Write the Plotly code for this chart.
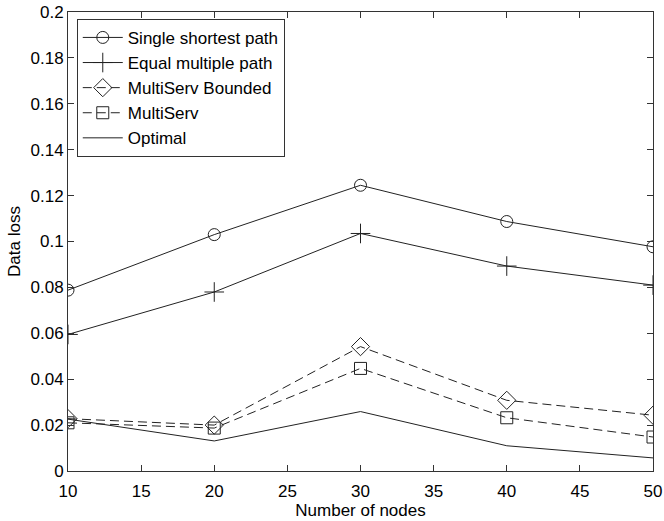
import plotly.graph_objects as go

nodes = [10, 20, 30, 40, 50]
single_shortest = [0.0788, 0.1030, 0.1245, 0.1087, 0.0977]
equal_multiple = [0.0595, 0.0780, 0.1035, 0.0893, 0.0810]
multiserv_bounded = [0.0228, 0.0200, 0.0542, 0.0308, 0.0243]
multiserv = [0.0210, 0.0187, 0.0447, 0.0232, 0.0148]
optimal = [0.0226, 0.0131, 0.0259, 0.0110, 0.0057]

y_ticks = [0, 0.02, 0.04, 0.06, 0.08, 0.1, 0.12, 0.14, 0.16, 0.18, 0.2]
y_labels = ["0", "0.02", "0.04", "0.06", "0.08", "0.1", "0.12", "0.14", "0.16", "0.18", "0.2"]
x_ticks = [10, 15, 20, 25, 30, 35, 40, 45, 50]

LC = "#222222"
FONT = "Liberation Sans, Arial, sans-serif"

fig = go.Figure()
fig.add_trace(go.Scatter(x=nodes, y=single_shortest, name="Single shortest path",
                         mode="lines+markers", line=dict(color=LC, width=1),
                         marker=dict(symbol="circle-open", size=12, color=LC, line=dict(width=1))))
fig.add_trace(go.Scatter(x=nodes, y=equal_multiple, name="Equal multiple path",
                         mode="lines+markers", line=dict(color=LC, width=1),
                         marker=dict(symbol="cross-thin-open", size=14, color=LC, line=dict(width=1, color=LC))))
fig.add_trace(go.Scatter(x=nodes, y=multiserv_bounded, name="MultiServ Bounded",
                         mode="lines+markers", line=dict(color=LC, width=1, dash="9px,5px"),
                         marker=dict(symbol="diamond-open", size=14, color=LC, line=dict(width=1))))
fig.add_trace(go.Scatter(x=nodes, y=multiserv, name="MultiServ",
                         mode="lines+markers", line=dict(color=LC, width=1, dash="9px,5px"),
                         marker=dict(symbol="square-open", size=12, color=LC, line=dict(width=1))))
fig.add_trace(go.Scatter(x=nodes, y=optimal, name="Optimal",
                         mode="lines", line=dict(color=LC, width=1)))

axis_common = dict(showgrid=False, zeroline=False, showline=True, linecolor="#333333",
                   linewidth=1, mirror="ticks", ticks="inside", ticklen=6, automargin=False,
                   tickcolor="#333333", tickfont=dict(size=17, color="black", family=FONT))

fig.update_layout(
    width=664, height=521,
    margin=dict(l=68, r=11, t=12, b=50),
    paper_bgcolor="white", plot_bgcolor="white",
    font=dict(family=FONT, color="black", size=17),
    showlegend=True,
    legend=dict(x=0.015, y=0.985, xanchor="left", yanchor="top",
                bordercolor="#333333", borderwidth=1, bgcolor="white",
                font=dict(size=17, family=FONT), tracegroupgap=0, itemwidth=40),
    xaxis=dict(range=[10, 50], tickvals=x_ticks, ticklabelstandoff=5,
               title=dict(text="Number of nodes", standoff=2, font=dict(size=17)), **axis_common),
    yaxis=dict(range=[0, 0.2], tickvals=y_ticks, ticktext=y_labels,
               title=dict(text="Data loss", standoff=5, font=dict(size=17)), **axis_common),
)

fig.write_html("out.html")
